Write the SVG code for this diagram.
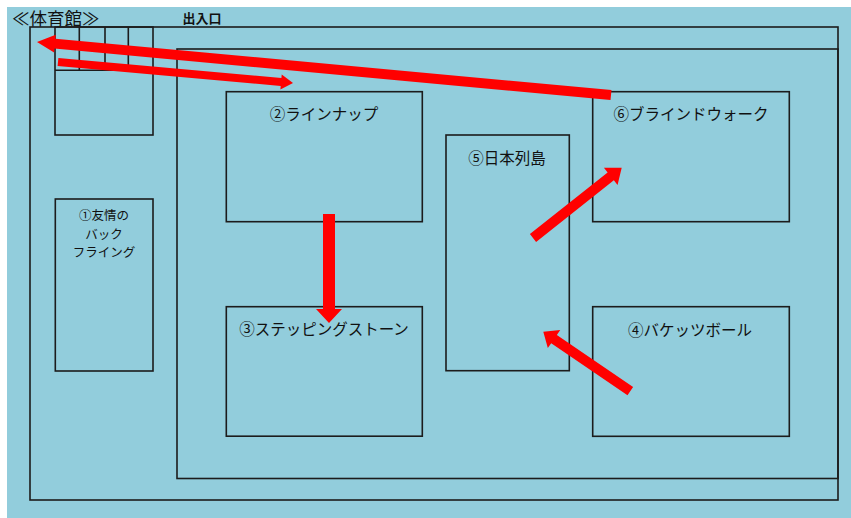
<svg xmlns="http://www.w3.org/2000/svg" width="851" height="518" viewBox="0 0 851 518">
<style>
.ln{fill:none;stroke:#1c1c1c;stroke-width:1.6}
.t{font-family:"Noto Sans CJK JP","Noto Sans",sans-serif;fill:#111;text-anchor:middle}
.big{font-size:15.5px}
.sm{font-size:12.5px}
.arr{fill:#ff0000}
</style>
<rect x="0" y="0" width="851" height="518" fill="#fff"/>
<rect x="7" y="7" width="844" height="511" fill="#92cddc"/>
<g id="hall">
<text x="12" y="25" style="font-family:'Noto Sans CJK JP',sans-serif;font-size:17.5px;fill:#111">≪体育館≫</text>
<rect class="ln" x="30" y="27" width="808" height="473"/>
</g>
<g id="entrance">
<text class="t" x="202" y="23" style="font-size:13px;font-weight:bold">出入口</text>
<rect class="ln" x="177" y="49" width="661" height="429.5"/>
</g>
<g id="grid">
<rect class="ln" x="55" y="27" width="98" height="108"/>
<path class="ln" d="M55 70.3H153M79.3 27V70.3M105 27V70.3M128.3 27V70.3"/>
</g>
<g id="n1">
<rect class="ln" x="55.3" y="199" width="97.7" height="172"/>
<text class="t sm" x="104" y="220">①友情の</text>
<text class="t sm" x="104" y="239">バック</text>
<text class="t sm" x="104" y="257">フライング</text>
</g>
<g id="n2">
<rect class="ln" x="226.3" y="91.7" width="196" height="130"/>
<text class="t big" x="324" y="120">②ラインナップ</text>
</g>
<g id="n3">
<rect class="ln" x="226.3" y="306.7" width="196" height="129.5"/>
<text class="t big" x="324" y="335">③ステッピングストーン</text>
</g>
<g id="n5">
<rect class="ln" x="446" y="135" width="123.3" height="235.7"/>
<text class="t big" x="507" y="164">⑤日本列島</text>
</g>
<g id="n6">
<rect class="ln" x="592.7" y="91.7" width="196.6" height="130"/>
<text class="t big" x="691" y="120">⑥ブラインドウォーク</text>
</g>
<g id="n4">
<rect class="ln" x="592.7" y="306.7" width="196.6" height="129.6"/>
<text class="t big" x="690" y="336">④バケッツボール</text>
</g>
<g id="connectors">
<polygon class="arr" points="611.5,90 55.4,38.7 55.7,34.7 37,42 54.1,52.6 54.4,48.6 610.5,100"/>
<polygon class="arr" points="58.4,58 281.4,77.95 281.72,74.46 293,83 280.38,89.4 280.69,85.91 57.6,66"/>
<polygon class="arr" points="323,214 335,214 335,309 342,309 329,323 316,309 323,309"/>
<polygon class="arr" points="536.1,241.9 613.84,180.32 617.56,185.02 621.7,167.7 603.9,167.78 607.62,172.48 529.9,234.1"/>
<polygon class="arr" points="633.1,387.1 556.85,334.91 560.24,329.96 543.3,331.7 547.82,348.12 551.21,343.17 627.5,395.3"/>
</g>
</svg>
